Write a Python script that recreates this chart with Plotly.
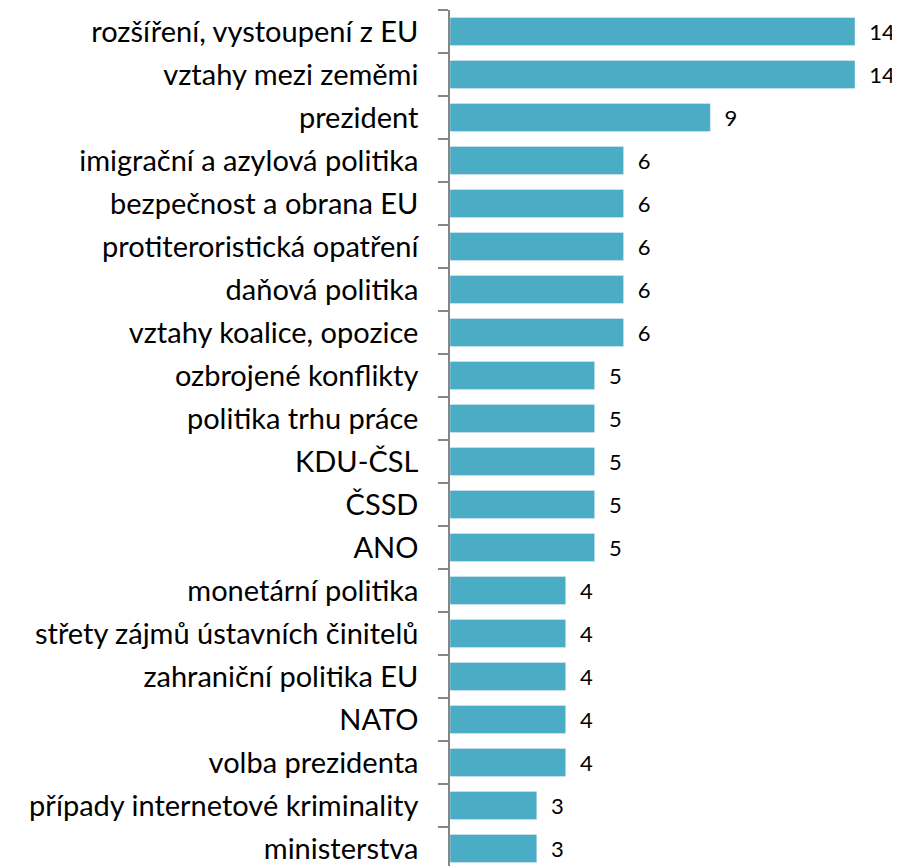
import plotly.graph_objects as go

topics = [
    "rozšíření, vystoupení z EU",
    "vztahy mezi zeměmi",
    "prezident",
    "imigrační a azylová politika",
    "bezpečnost a obrana EU",
    "protiteroristická opatření",
    "daňová politika",
    "vztahy koalice, opozice",
    "ozbrojené konflikty",
    "politika trhu práce",
    "KDU-ČSL",
    "ČSSD",
    "ANO",
    "monetární politika",
    "střety zájmů ústavních činitelů",
    "zahraniční politika EU",
    "NATO",
    "volba prezidenta",
    "případy internetové kriminality",
    "ministerstva",
]
counts = [14, 14, 9, 6, 6, 6, 6, 6, 5, 5, 5, 5, 5, 4, 4, 4, 4, 4, 3, 3]

fig = go.Figure()
fig.add_trace(go.Bar(
    x=counts, y=topics, orientation="h",
    marker=dict(color="#4BACC6"),
    width=0.65,
    text=[f"  {c}" for c in counts],
    textposition="outside",
    constraintext="none",
    outsidetextfont=dict(size=22, color="#000000", family="Lato"),
    cliponaxis=False,
))
fig.update_layout(
    width=900, height=866,
    margin=dict(l=442, r=53, t=2, b=4),
    plot_bgcolor="white", paper_bgcolor="white",
    font=dict(family="Lato", size=29, color="#000000"),
    showlegend=False,
)
fig.update_xaxes(range=[0, 14], visible=False)
fig.update_yaxes(
    categoryorder="array", categoryarray=topics,
    range=[19.5, -0.5],
    showline=True, linecolor="#868686", linewidth=1.5,
    ticks="outside", tickson="boundaries", ticklen=10,
    tickcolor="#868686", tickwidth=1.5,
    ticklabelstandoff=24,
    showgrid=False,
)
fig.write_html("out.html")
